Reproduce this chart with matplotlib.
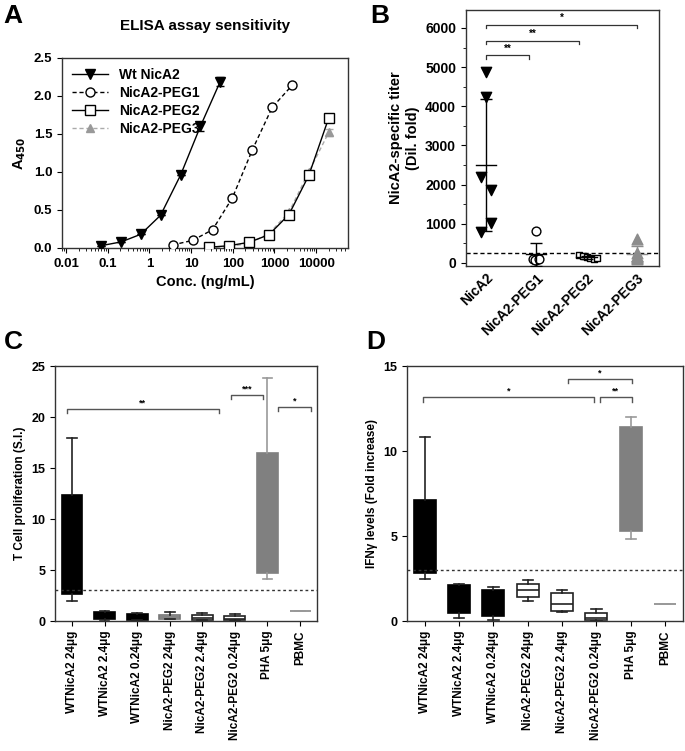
import numpy as np
import matplotlib.pyplot as plt
from matplotlib.lines import Line2D

plt.rcParams['font.family'] = ['Liberation Sans', 'DejaVu Sans']
plt.rcParams['font.weight'] = 'bold'
plt.rcParams['axes.labelweight'] = 'bold'
plt.rcParams['axes.titleweight'] = 'bold'
plt.rcParams['axes.linewidth'] = 1.0
plt.rcParams['axes.edgecolor'] = '#333333'

# ---- A: ELISA assay sensitivity ----
wt_conc = [0.069, 0.21, 0.62, 1.85, 5.6, 16.7, 50]
wt_a450 = [0.03, 0.08, 0.18, 0.43, 0.96, 1.60, 2.19]
wt_err = [0, 0, 0, 0, 0, 0.06, 0.06]
peg1_conc = [3.6, 10.9, 32.7, 98, 294, 883, 2650]
peg1_a450 = [0.04, 0.10, 0.24, 0.66, 1.29, 1.85, 2.14]
peg2_conc = [27, 82, 247, 741, 2222, 6667, 20000]
peg2_a450 = [0.01, 0.03, 0.075, 0.175, 0.44, 0.955, 1.71]
peg2_err = [0, 0, 0, 0, 0, 0, 0.05]
peg3_a450 = [0.005, 0.02, 0.06, 0.19, 0.47, 1.0, 1.52]
peg3_err = [0, 0, 0, 0, 0, 0, 0.05]

# ---- B: titers ----
b_groups = ['NicA2', 'NicA2-PEG1', 'NicA2-PEG2', 'NicA2-PEG3']
b_nica2 = [4870, 4250, 2200, 1860, 1020, 780]
b_peg1 = [810, 110, 130, 80, 70, 100]
b_peg2 = [200, 180, 150, 120, 100, 130]
b_peg3 = [620, 250, 180, 120, 140, 110]
b_cutoff = 255
b_sig = [(0, 0.85, 5300, '**'), (0, 1.85, 5680, '**'), (0, 3.0, 6080, '*')]

# ---- C / D: box plots ----
cd_labels = ['WTNicA2 24μg', 'WTNicA2 2.4μg', 'WTNicA2 0.24μg',
             'NicA2-PEG2 24μg', 'NicA2-PEG2 2.4μg', 'NicA2-PEG2 0.24μg',
             'PHA 5μg', 'PBMC']
c_min = [2.0, 0.1, 0.05, 0.15, 0.05, 0.0, 4.1, 1.0]
c_q1 = [2.6, 0.15, 0.1, 0.2, 0.1, 0.05, 4.7, 1.0]
c_med = [5.0, 0.6, 0.4, 0.35, 0.25, 0.2, 10.0, 1.0]
c_q3 = [12.4, 0.92, 0.65, 0.55, 0.55, 0.5, 16.5, 1.0]
c_max = [17.95, 0.98, 0.75, 0.85, 0.8, 0.7, 23.8, 1.0]
c_cutoff = 3.0
c_sig = [(-0.15, 4.5, 20.8, '**'), (4.88, 5.86, 22.2, '***'), (6.32, 7.33, 21.0, '*')]

d_min = [2.5, 0.15, 0.05, 1.2, 0.55, 0.0, 4.85, 1.0]
d_q1 = [2.85, 0.45, 0.3, 1.42, 0.6, 0.05, 5.28, 1.0]
d_med = [5.0, 1.2, 1.0, 1.85, 1.02, 0.15, 8.0, 1.0]
d_q3 = [7.1, 2.09, 1.84, 2.15, 1.62, 0.5, 11.4, 1.0]
d_max = [10.8, 2.19, 2.0, 2.39, 1.85, 0.73, 12.03, 1.0]
d_cutoff = 3.0
d_sig = [(-0.06, 4.94, 13.15, '*'), (5.09, 6.04, 13.15, '**'), (4.16, 6.04, 14.25, '*')]

box_face = ['black', 'black', 'black', 'white', 'white', 'white', '#808080', 'white']
box_edge = ['black', 'black', 'black', '#222222', '#222222', '#222222', '#808080', '#999999']
whisk_col = ['#222222', '#222222', '#222222', '#222222', '#222222', '#222222', '#999999', '#999999']
c_face = ['black', 'black', 'black', '#c8c8c8', 'white', 'white', '#808080', 'white']
c_edge = ['black', 'black', 'black', '#777777', '#222222', '#222222', '#808080', '#999999']

fig = plt.figure(figsize=(6.85, 7.51), dpi=100)
axA = fig.add_axes([0.0905, 0.6698, 0.4175, 0.253])
axB = fig.add_axes([0.680, 0.6458, 0.282, 0.3409])
axC = fig.add_axes([0.0803, 0.1731, 0.3825, 0.3395])
axD = fig.add_axes([0.594, 0.1731, 0.403, 0.3395])

# Panel A
axA.errorbar(peg2_conc, peg3_a450, yerr=peg3_err, color='#aaaaaa', ls=(0, (3, 2)), lw=1,
             marker='^', ms=6, mfc='#999999', mec='#999999', capsize=3, zorder=2)
axA.errorbar(peg2_conc, peg2_a450, yerr=peg2_err, color='black', lw=1, marker='s', ms=6.5,
             mfc='white', mec='black', capsize=3, zorder=3)
axA.errorbar(peg1_conc, peg1_a450, color='black', ls=(0, (3, 2)), lw=1, marker='o', ms=6.5,
             mfc='white', mec='black', zorder=3)
axA.errorbar(wt_conc, wt_a450, yerr=wt_err, color='black', lw=1, marker='v', ms=6.5,
             mfc='black', mec='black', capsize=3, zorder=4)
handles = [Line2D([], [], color='black', lw=1, marker='v', ms=6.5, mfc='black'),
           Line2D([], [], color='black', lw=1, ls=(0, (3, 2)), marker='o', ms=6.5, mfc='white'),
           Line2D([], [], color='black', lw=1, marker='s', ms=6.5, mfc='white'),
           Line2D([], [], color='#aaaaaa', lw=1, ls=(0, (3, 2)), marker='^', ms=6,
                  mfc='#999999', mec='#999999')]
axA.legend(handles, ['Wt NicA2', 'NicA2-PEG1', 'NicA2-PEG2', 'NicA2-PEG3'], loc='upper left',
           frameon=False, fontsize=10, handlelength=2.6, labelspacing=0.3, borderaxespad=0.3)
axA.set_xscale('log')
axA.set_xlim(0.008, 58000)
axA.set_ylim(0, 2.5)
axA.set_yticks(np.arange(0, 2.51, 0.5))
axA.set_yticklabels(['0.0', '0.5', '1.0', '1.5', '2.0', '2.5'])
axA.set_xticks([0.01, 0.1, 1, 10, 100, 1000, 10000])
axA.set_xticklabels(['0.01', '0.1', '1', '10', '100', '1000', '10000'])
axA.tick_params(labelsize=9.5)
axA.set_title('ELISA assay sensitivity', fontsize=11, pad=20)
axA.set_xlabel('Conc. (ng/mL)', fontsize=10.5)
axA.set_ylabel('A$_{\\mathbf{450}}$', fontsize=10.5)

# Panel B
groups_vals = [b_nica2, b_peg1, b_peg2, b_peg3]
jitters = [[0, 0, -0.09, 0.11, 0.11, -0.09],
           [0, -0.06, 0.04, 0.0, -0.03, 0.06],
           [-0.15, -0.07, 0.0, 0.07, 0.15, 0.2],
           [0, 0, 0, 0, 0, 0]]
styles = [dict(marker='v', color='black', s=55),
          dict(marker='o', facecolor='white', edgecolor='black', s=40),
          dict(marker='s', facecolor='white', edgecolor='black', s=22),
          dict(marker='^', color='#8c8c8c', s=60)]
errc = ['black', 'black', 'black', '#8c8c8c']
for i, vals in enumerate(groups_vals):
    x = i + np.array(jitters[i])
    axB.scatter(x, vals, zorder=3, linewidths=1, **styles[i])
    m = np.mean(vals)
    sd = np.std(vals, ddof=1)
    axB.plot([i - 0.2, i + 0.2], [m, m], color=errc[i], lw=1, zorder=4)
    axB.errorbar(i, m, yerr=sd, color=errc[i], lw=1, capsize=4, zorder=4)
axB.axhline(b_cutoff, color='black', ls=(0, (3, 2)), lw=1)
for x1, x2, y, t in b_sig:
    axB.plot([x1, x1, x2, x2], [y - 90, y, y, y - 90], color='#333333', lw=0.9)
    axB.text((x1 + x2) / 2, y + 40, t, ha='center', va='bottom', fontsize=7)
axB.set_xlim(-0.4, 3.44)
axB.set_ylim(-80, 6460)
axB.set_yticks(range(0, 6001, 1000))
axB.set_yticks(range(500, 6001, 1000), minor=True)
axB.set_xticks(range(4))
axB.set_xticklabels(b_groups, rotation=45, ha='right', rotation_mode='anchor')
axB.tick_params(labelsize=10)
axB.tick_params(axis='x', length=0)
axB.set_ylabel('NicA2-specific titer\n(Dil. fold)', fontsize=10.5)


def box_panel(ax, mins, q1, med, q3, maxs, faces, edges, whc):
    stats = []
    for i in range(len(cd_labels)):
        stats.append(dict(whislo=mins[i], q1=q1[i], med=med[i], q3=q3[i], whishi=maxs[i]))
    for i, st in enumerate(stats):
        ax.bxp([st], positions=[i], widths=0.64, showfliers=False, patch_artist=True,
               boxprops=dict(facecolor=faces[i], edgecolor=edges[i], lw=1.2),
               medianprops=dict(color=edges[i], lw=1.2),
               whiskerprops=dict(color=whc[i], lw=1.2),
               capprops=dict(color=whc[i], lw=1.2), capwidths=0.3)
    ax.set_xlim(-0.52, 7.52)
    ax.set_xticks(range(len(cd_labels)))
    ax.set_xticklabels(cd_labels, rotation=90, fontsize=8.5)
    ax.tick_params(axis='y', labelsize=9)


box_panel(axC, c_min, c_q1, c_med, c_q3, c_max, c_face, c_edge, whisk_col)
axC.axhline(c_cutoff, color='#333333', ls=(0, (2, 2)), lw=1)
for x1, x2, y, t in c_sig:
    axC.plot([x1, x1, x2, x2], [y - 0.4, y, y, y - 0.4], color='#555555', lw=1)
    axC.text((x1 + x2) / 2, y + 0.1, t, ha='center', va='bottom', fontsize=6.5)
axC.set_ylim(0, 25)
axC.set_yticks(range(0, 26, 5))
axC.set_ylabel('T Cell proliferation (S.I.)', fontsize=8.5)

box_panel(axD, d_min, d_q1, d_med, d_q3, d_max, box_face, box_edge, whisk_col)
axD.axhline(d_cutoff, color='#333333', ls=(0, (2, 2)), lw=1)
for x1, x2, y, t in d_sig:
    axD.plot([x1, x1, x2, x2], [y - 0.25, y, y, y - 0.25], color='#555555', lw=1)
    axD.text((x1 + x2) / 2, y + 0.1, t, ha='center', va='bottom', fontsize=6.5)
axD.set_ylim(0, 15)
axD.set_yticks(range(0, 16, 5))
axD.set_ylabel('IFNγ levels (Fold increase)', fontsize=8.5)

for lab, x, y in [('A', 0.005, 0.995), ('B', 0.54, 0.995),
                  ('C', 0.005, 0.56), ('D', 0.535, 0.56)]:
    fig.text(x, y, lab, fontsize=19, fontweight='bold', va='top', ha='left')

fig.savefig('out.png', dpi=100)
